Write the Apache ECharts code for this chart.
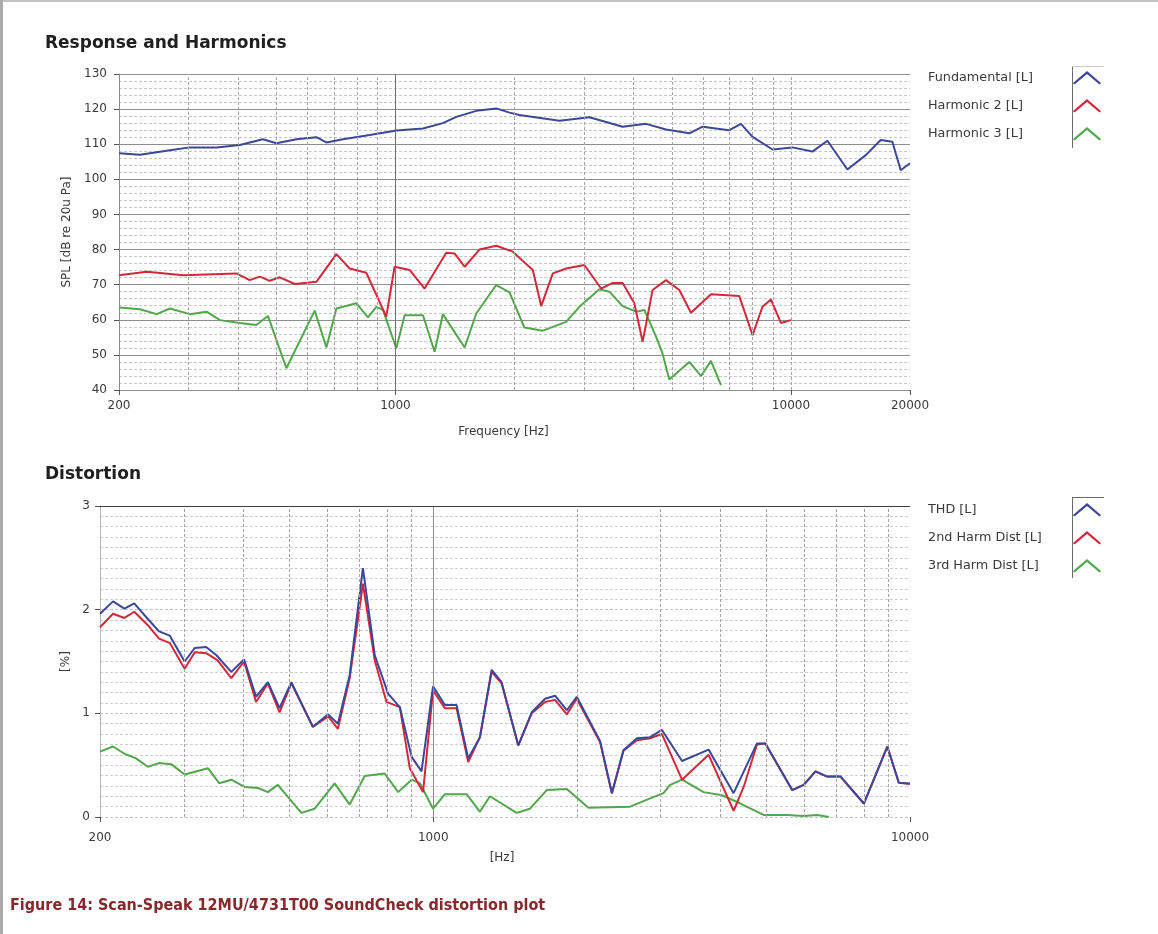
<!DOCTYPE html>
<html>
<head>
<meta charset="utf-8">
<title>Scan-Speak 12MU/4731T00 SoundCheck distortion plot</title>
<script src="https://cdn.jsdelivr.net/npm/echarts@6/dist/echarts.min.js"></script>
<style>
  html, body { margin: 0; padding: 0; background: #ffffff; }
  #chart { width: 1158px; height: 934px; }
</style>
</head>
<body>
<div id="chart"></div>
<script>
// ---- Response and Harmonics (SPL, dB re 20 uPa) ----
const fundFreq = [200,226,269,302,353,404,462,500,562,631,669,737,861,1005,1174,1318,1425,1601,1798,1943,2058,2598,3094,3754,4303,4832,5534,5979,6982,7474,7998,8982,10088,11332,12366,13890,15458,16866,18046,18948,20000];
const fundSPL  = [107.4,107.0,108.3,109.1,109.1,109.8,111.4,110.3,111.4,112.0,110.5,111.4,112.6,113.9,114.5,116.0,117.8,119.5,120.2,119.0,118.3,116.7,117.7,115.0,115.8,114.2,113.1,115.0,114.0,115.8,112.1,108.5,109.1,107.9,111.0,102.8,106.9,111.2,110.7,102.6,104.6];

const h2Freq = [200,235,291,396,428,454,481,510,557,631,709,766,844,948,995,1086,1185,1344,1411,1496,1631,1798,1980,2225,2336,2500,2702,3004,3311,3541,3754,4018,4217,4469,4832,5222,5589,6278,7400,7998,8472,8897,9432,10000];
const h2SPL  = [72.7,73.7,72.7,73.2,71.3,72.3,71.1,72.1,70.2,70.8,78.7,74.6,73.4,60.9,75.1,74.2,68.9,79.1,78.9,75.1,80.0,81.1,79.4,74.2,63.9,73.2,74.6,75.6,68.9,70.5,70.5,64.7,53.7,68.5,71.3,68.5,62.0,67.3,66.8,55.6,63.7,65.8,59.1,59.9];

const h3Freq = [200,226,249,269,302,333,360,404,445,476,530,625,669,709,797,852,895,930,1005,1055,1174,1256,1318,1496,1601,1798,1943,2118,2359,2702,2918,3278,3474,3754,4058,4260,4559,4735,4925,5534,5923,6278,6653];
const h3SPL  = [63.5,63.0,61.6,63.2,61.6,62.3,59.9,59.1,58.5,61.1,46.2,62.6,52.1,63.2,64.7,60.7,63.7,62.8,51.9,61.3,61.3,50.9,61.6,52.1,61.8,69.9,67.8,57.8,56.9,59.4,63.7,68.7,68.0,63.9,62.3,62.8,55.2,50.4,43.0,48.0,44.0,48.3,41.4];

// ---- Distortion (%) ----
const thdFreq = [200,213,225,236,252,266,280,301,316,334,351,377,401,425,450,476,504,559,602,631,668,712,754,804,851,901,945,999,1058,1119,1184,1253,1326,1391,1508,1609,1716,1801,1906,2000,2239,2370,2506,2674,2851,3018,3325,3781,4266,4776,4973,5660,5986,6335,6703,7150,8002,8962,9475,10000];
const thdPct  = [1.96,2.08,2.01,2.06,1.91,1.79,1.75,1.50,1.63,1.64,1.56,1.40,1.52,1.16,1.30,1.05,1.30,0.87,0.99,0.90,1.37,2.40,1.56,1.19,1.06,0.58,0.44,1.26,1.08,1.08,0.565,0.77,1.42,1.30,0.69,1.01,1.14,1.17,1.03,1.16,0.73,0.23,0.645,0.76,0.77,0.84,0.54,0.65,0.23,0.71,0.71,0.26,0.31,0.44,0.39,0.39,0.13,0.68,0.33,0.32];

const hd2Freq = [200,213,225,236,252,266,280,301,316,334,353,377,401,425,450,476,504,559,602,631,668,712,754,798,851,893,952,999,1058,1119,1184,1253,1326,1391,1508,1609,1716,1801,1906,2000,2239,2370,2506,2674,2851,3018,3325,3781,4266,4478,4776,4973,5660,5986,6335,6703,7150,8002,8962,9475,10000];
const hd2Pct  = [1.83,1.96,1.92,1.98,1.85,1.72,1.68,1.43,1.59,1.58,1.51,1.34,1.50,1.11,1.29,1.01,1.29,0.87,0.97,0.85,1.34,2.25,1.51,1.11,1.06,0.47,0.24,1.22,1.05,1.05,0.53,0.77,1.40,1.29,0.69,1.00,1.11,1.13,0.99,1.14,0.72,0.23,0.64,0.74,0.76,0.80,0.36,0.60,0.06,0.29,0.70,0.71,0.26,0.31,0.44,0.39,0.39,0.13,0.68,0.33,0.32];

const hd3Freq = [200,213,225,238,252,266,282,301,337,356,377,402,429,450,472,529,564,621,668,718,791,844,901,938,999,1058,1175,1253,1315,1496,1596,1730,1906,2116,2588,2851,3040,3140,3325,3690,4033,4407,4932,5523,5986,6386,6756];
const hd3Pct  = [0.63,0.68,0.61,0.565,0.485,0.52,0.51,0.41,0.47,0.325,0.36,0.29,0.28,0.24,0.31,0.04,0.08,0.325,0.12,0.395,0.42,0.24,0.36,0.325,0.08,0.22,0.22,0.05,0.20,0.04,0.08,0.26,0.27,0.09,0.10,0.18,0.23,0.31,0.36,0.24,0.21,0.13,0.02,0.02,0.01,0.02,0.0];

// Series / legend names
const respNames = ['Fundamental [L]', 'Harmonic 2 [L]', 'Harmonic 3 [L]'];
const distNames = ['THD [L]', '2nd Harm Dist [L]', '3rd Harm Dist [L]'];

// Frequency grid lines between the labelled decades
const gridFreqTop = [300,400,500,600,700,800,900,2000,3000,4000,5000,6000,7000,8000,9000,10000];
const gridFreqBottom = [300,400,500,600,700,800,900,2000,3000,4000,5000,6000,7000,8000,9000];

const BLUE = '#3b4798';
const RED = '#d3283a';
const GREEN = '#52a64c';
const FONT = 'DejaVu Sans';

const zip = (xs, ys) => xs.map((x, i) => [x, ys[i]]);

const chevron = 'path://M0,13 L14,1 L28,13 L26.5,14.5 L14,4 L1.5,14.5 Z';

function lineSeries(name, xi, data, color, z) {
  return {
    type: 'line', name, xAxisIndex: xi, yAxisIndex: xi,
    data, showSymbol: false, symbol: 'none', z,
    lineStyle: { width: 2, color },
    itemStyle: { color },
    emphasis: { disabled: true }
  };
}

function gridSeries(xi, freqs, darkFreq, extra) {
  const data = freqs.map(f => ({ xAxis: f }));
  data.push({ xAxis: darkFreq, lineStyle: { color: xi === 0 ? '#6f6f6f' : '#8d8d8d', type: 'solid', width: 1 } });
  return {
    type: 'line', xAxisIndex: xi, yAxisIndex: xi, data: [], silent: true, z: 1,
    markLine: {
      silent: true, symbol: ['none', 'none'], label: { show: false },
      animation: false,
      lineStyle: { color: '#a5a5a5', type: [3, 2], width: 1 },
      emphasis: { disabled: true },
      data: data.concat(extra || [])
    }
  };
}

// Legend: left-aligned names in a fixed-width box, swatch column on the right
function legendFor(names, top) {
  return {
    data: names, left: 928, top, padding: 0, orient: 'vertical', align: 'right',
    selectedMode: false, icon: chevron, itemWidth: 28, itemHeight: 14, itemGap: 14.5,
    formatter: name => '{t|' + name + '}',
    textStyle: {
      rich: { t: { width: 140, align: 'left', fontFamily: FONT, fontSize: 12.8, color: '#3a3a3a' } }
    }
  };
}

const axisLabelStyle = { fontFamily: FONT, fontSize: 12, color: '#3a3a3a' };
const nameStyle = { fontFamily: FONT, fontSize: 12, color: '#3a3a3a' };

const option = {
  animation: false,
  backgroundColor: '#ffffff',
  textStyle: { fontFamily: FONT },
  title: [
    { text: 'Response and Harmonics', left: 45, top: 34, padding: 0,
      textStyle: { fontFamily: FONT, fontSize: 17, fontWeight: 'bold', color: '#1f1f1f', lineHeight: 20 } },
    { text: 'Distortion', left: 45, top: 465, padding: 0,
      textStyle: { fontFamily: FONT, fontSize: 17, fontWeight: 'bold', color: '#1f1f1f', lineHeight: 20 } },
    { text: 'Figure 14: Scan-Speak 12MU/4731T00 SoundCheck distortion plot', left: 10, top: 896, padding: 0,
      textStyle: { fontFamily: "'Liberation Sans Narrow', 'DejaVu Sans Condensed', sans-serif", fontSize: 16,
        fontWeight: 'bold', color: '#842a2c', lineHeight: 20 } }
  ],
  legend: [legendFor(respNames, 71), legendFor(distNames, 503)],
  grid: [
    { left: 119, top: 74, width: 791, height: 316 },
    { left: 100, top: 506, width: 810, height: 311 }
  ],
  xAxis: [
    { gridIndex: 0, type: 'log', logBase: 10, min: 200, max: 20000,
      axisLine: { show: false },
      axisTick: { show: true, length: 5, lineStyle: { color: '#555' } },
      axisLabel: Object.assign({ margin: 10, formatter: v => String(Math.round(v)) }, axisLabelStyle),
      splitLine: { show: false },
      name: 'Frequency [Hz]', nameLocation: 'middle', nameGap: 36,
      nameTextStyle: Object.assign({ padding: [0, 22, 0, 0] }, nameStyle) },
    { gridIndex: 1, type: 'log', logBase: 10, min: 200, max: 10000,
      axisLine: { show: false },
      axisTick: { show: true, length: 5, lineStyle: { color: '#555' } },
      axisLabel: Object.assign({ margin: 15, formatter: v => String(Math.round(v)) }, axisLabelStyle),
      splitLine: { show: false },
      name: '[Hz]', nameLocation: 'middle', nameGap: 35,
      nameTextStyle: Object.assign({ padding: [0, 6, 0, 0] }, nameStyle) }
  ],
  yAxis: [
    { gridIndex: 0, type: 'value', min: 40, max: 130, interval: 10,
      axisLine: { show: true, lineStyle: { color: '#8a8a8a' } },
      axisTick: { show: true, length: 5, lineStyle: { color: '#555' } },
      axisLabel: Object.assign({ margin: 12 }, axisLabelStyle),
      splitLine: { show: true, lineStyle: { color: '#8e8e8e', width: 1 } },
      minorTick: { show: false, splitNumber: 5 },
      minorSplitLine: { show: true, lineStyle: { color: '#c8c8c8', type: [3, 2] } },
      name: 'SPL [dB re 20u Pa]', nameLocation: 'middle', nameGap: 41, nameTextStyle: nameStyle },
    { gridIndex: 1, type: 'value', min: 0, max: 3, interval: 1,
      axisLine: { show: true, lineStyle: { color: '#b5b5b5' } },
      axisTick: { show: true, length: 5, lineStyle: { color: '#555' } },
      axisLabel: Object.assign({ margin: 10 }, axisLabelStyle),
      splitLine: { show: true, lineStyle: { color: '#c4c4c4', type: [3, 2] } },
      minorTick: { show: false, splitNumber: 10 },
      minorSplitLine: { show: true, lineStyle: { color: '#cdcdcd', type: [3, 2] } },
      name: '[%]', nameLocation: 'middle', nameGap: 26, nameTextStyle: nameStyle }
  ],
  series: [
    gridSeries(0, gridFreqTop, 1000),
    gridSeries(1, gridFreqBottom, 1000, [{ yAxis: 3, lineStyle: { color: '#3c3c3c', type: 'solid', width: 1 } }]),
    lineSeries(respNames[0], 0, zip(fundFreq, fundSPL), BLUE, 4),
    lineSeries(respNames[1], 0, zip(h2Freq, h2SPL), RED, 3),
    lineSeries(respNames[2], 0, zip(h3Freq, h3SPL), GREEN, 2),
    lineSeries(distNames[0], 1, zip(thdFreq, thdPct), BLUE, 4),
    lineSeries(distNames[1], 1, zip(hd2Freq, hd2Pct), RED, 3),
    lineSeries(distNames[2], 1, zip(hd3Freq, hd3Pct), GREEN, 2)
  ],
  graphic: [
    // frame of the legend swatch columns
    { type: 'line', silent: true, shape: { x1: 1072.5, y1: 66, x2: 1072.5, y2: 148 }, style: { stroke: '#6a6a6a', lineWidth: 1 } },
    { type: 'line', silent: true, shape: { x1: 1072, y1: 66.5, x2: 1104, y2: 66.5 }, style: { stroke: '#c9c9c9', lineWidth: 1 } },
    { type: 'line', silent: true, shape: { x1: 1072.5, y1: 497, x2: 1072.5, y2: 578 }, style: { stroke: '#6a6a6a', lineWidth: 1 } },
    { type: 'line', silent: true, shape: { x1: 1072, y1: 497.5, x2: 1104, y2: 497.5 }, style: { stroke: '#6a6a6a', lineWidth: 1 } },
    // page edges
    { type: 'line', silent: true, shape: { x1: 0, y1: 1, x2: 1158, y2: 1 }, style: { stroke: '#c4c4c4', lineWidth: 2 } },
    { type: 'line', silent: true, shape: { x1: 1.5, y1: 0, x2: 1.5, y2: 934 }, style: { stroke: '#ababab', lineWidth: 3 } }
  ]
};

const chart = echarts.init(document.getElementById('chart'), null, { renderer: 'canvas' });
chart.setOption(option);
</script>
</body>
</html>
